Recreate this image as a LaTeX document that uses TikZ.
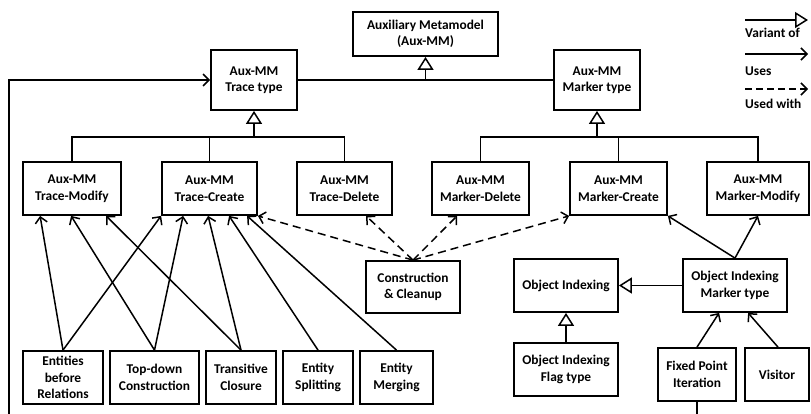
\documentclass[tikz,border=0pt]{standalone}
\usepackage{fontspec}
\setmainfont{Carlito}
\usetikzlibrary{arrows.meta,calc}

\tikzset{
  box/.style={draw, line width=1.8pt, align=center, inner sep=0pt,
    font=\bfseries\fontsize{13.4}{16.5}\selectfont},
  variant/.style={line width=1.5pt, -{Triangle[open, length=13pt, width=16pt, line width=1.5pt]}},
  uses/.style={line width=1.5pt, -{Straight Barb[length=6pt, width=12pt, line width=1.5pt]}},
  usedwith/.style={uses, dash pattern=on 8pt off 5pt},
  plain/.style={line width=1.5pt},
  legendtext/.style={font=\bfseries\fontsize{13.4}{16.5}\selectfont, inner sep=0pt},
}

\begin{document}
\begin{tikzpicture}[x=1pt, y=-1pt]
\useasboundingbox (0,0) rectangle (811,413);

% metamodel hierarchy
\node[box, minimum width=145pt, minimum height=44pt] (aux) at (425.5,34) {Auxiliary Metamodel\\(Aux-MM)};
\node[box, minimum width=86pt, minimum height=60pt] (trace) at (254,80) {Aux-MM\\Trace type};
\node[box, minimum width=86pt, minimum height=60pt] (marker) at (597,80) {Aux-MM\\Marker type};

\node[box, minimum width=98pt, minimum height=53pt] (tmod) at (72,188.5) {Aux-MM\\Trace-Modify};
\node[box, minimum width=95pt, minimum height=53pt] (tcre) at (209.5,188.5) {Aux-MM\\Trace-Create};
\node[box, minimum width=95pt, minimum height=53pt] (tdel) at (344.5,188.5) {Aux-MM\\Trace-Delete};
\node[box, minimum width=97pt, minimum height=53pt] (mdel) at (480.5,188.5) {Aux-MM\\Marker-Delete};
\node[box, minimum width=97pt, minimum height=53pt] (mcre) at (618.5,188.5) {Aux-MM\\Marker-Create};
\node[box, minimum width=102pt, minimum height=53pt] (mmod) at (758,188.5) {Aux-MM\\Marker-Modify};

% patterns and helpers
\node[box, minimum width=94pt, minimum height=52pt] (cc) at (413,287) {Construction\\\& Cleanup};
\node[box, minimum width=104pt, minimum height=53pt] (oi) at (566,285.5) {Object Indexing};
\node[box, minimum width=104pt, minimum height=53pt] (oim) at (735,285.5) {Object Indexing\\Marker type};
\node[box, minimum width=104pt, minimum height=53pt] (oif) at (566,369.5) {Object Indexing\\Flag type};
\node[box, minimum width=78pt, minimum height=53pt] (fpi) at (697,374.5) {Fixed Point\\Iteration};
\node[box, minimum width=64pt, minimum height=53pt] (vis) at (777,374.5) {Visitor};

\node[box, minimum width=80pt, minimum height=53pt] (ebr) at (63,377.5) {Entities\\before\\Relations};
\node[box, minimum width=89pt, minimum height=53pt] (tdc) at (154.5,377.5) {Top-down\\Construction};
\node[box, minimum width=70pt, minimum height=53pt] (tc) at (241,377.5) {Transitive\\Closure};
\node[box, minimum width=70pt, minimum height=53pt] (es) at (318,377.5) {Entity\\Splitting};
\node[box, minimum width=73pt, minimum height=53pt] (em) at (396.5,377.5) {Entity\\Merging};

% variant-of relations
\coordinate (auxjoin) at (aux.south |- trace.east);
\draw[plain] (trace.east) -- (marker.west);
\draw[variant] (auxjoin) -- (aux.south);

\coordinate (tbar) at ($(trace.south)+(0,26)$);
\draw[variant] (tbar) -- (trace.south);
\draw[plain] (tmod.north) |- (tbar) -| (tdel.north);
\draw[plain] (tcre.north) -- (tcre.north |- tbar);

\coordinate (mbar) at ($(marker.south)+(0,26)$);
\draw[variant] (mbar) -- (marker.south);
\draw[plain] (mdel.north) |- (mbar) -| (mmod.north);
\draw[plain] (mcre.north) -- (mcre.north |- mbar);

\draw[variant] (oim.west) -- (oi.east);
\draw[variant] (oif.north) -- (oi.south);

% uses relations
\draw[uses] (ebr.north) -- ($(tmod.south west)+(18,0)$);
\draw[uses] (ebr.north) -- (tcre.south west);
\draw[uses] (tdc.north) -- ($(tmod.south west)+(49,0)$);
\draw[uses] (tdc.north) -- ($(tcre.south west)+(22,0)$);
\draw[uses] (tc.north) -- ($(tmod.south west)+(84,0)$);
\draw[uses] (tc.north) -- ($(tcre.south west)+(47,0)$);
\draw[uses] (es.north) -- ($(tcre.south west)+(68,0)$);
\draw[uses] (em.north) -- ($(tcre.south west)+(86,0)$);

\draw[uses] (oim.north) -- (mcre.south east);
\draw[uses] (oim.north) -- (mmod.south);
\draw[uses] (fpi.north) -- ($(oim.south west)+(37,0)$);
\draw[uses] ($(vis.north)+(1,0)$) -- ($(oim.south west)+(66,0)$);

\coordinate (loop) at (9,440);
\draw[uses] (fpi.south) |- (loop) |- (trace.west);

% used-with relations
\draw[usedwith] (cc.north) -- (tcre.south east);
\draw[usedwith] (cc.north) -- ($(tdel.south west)+(70,0)$);
\draw[usedwith] (cc.north) -- ($(mdel.south west)+(26,0)$);
\draw[usedwith] (cc.north) -- (mcre.south west);

% legend
\coordinate (la1) at (745,20);  \coordinate (lb1) at (808,20);
\coordinate (la2) at (745,54);  \coordinate (lb2) at (808,54);
\coordinate (la3) at (745,89);  \coordinate (lb3) at (808,89);
\draw[variant] (la1) -- (lb1);
\draw[uses] (la2) -- (lb2);
\draw[usedwith, dash pattern=on 7pt off 4pt] (la3) -- (lb3);
\node[legendtext, anchor=base west] (lt1) at (745,37) {Variant of};
\node[legendtext, anchor=base west] (lt2) at (745,75) {Uses};
\node[legendtext, anchor=base west] (lt3) at (745,108) {Used with};
\end{tikzpicture}
\end{document}
